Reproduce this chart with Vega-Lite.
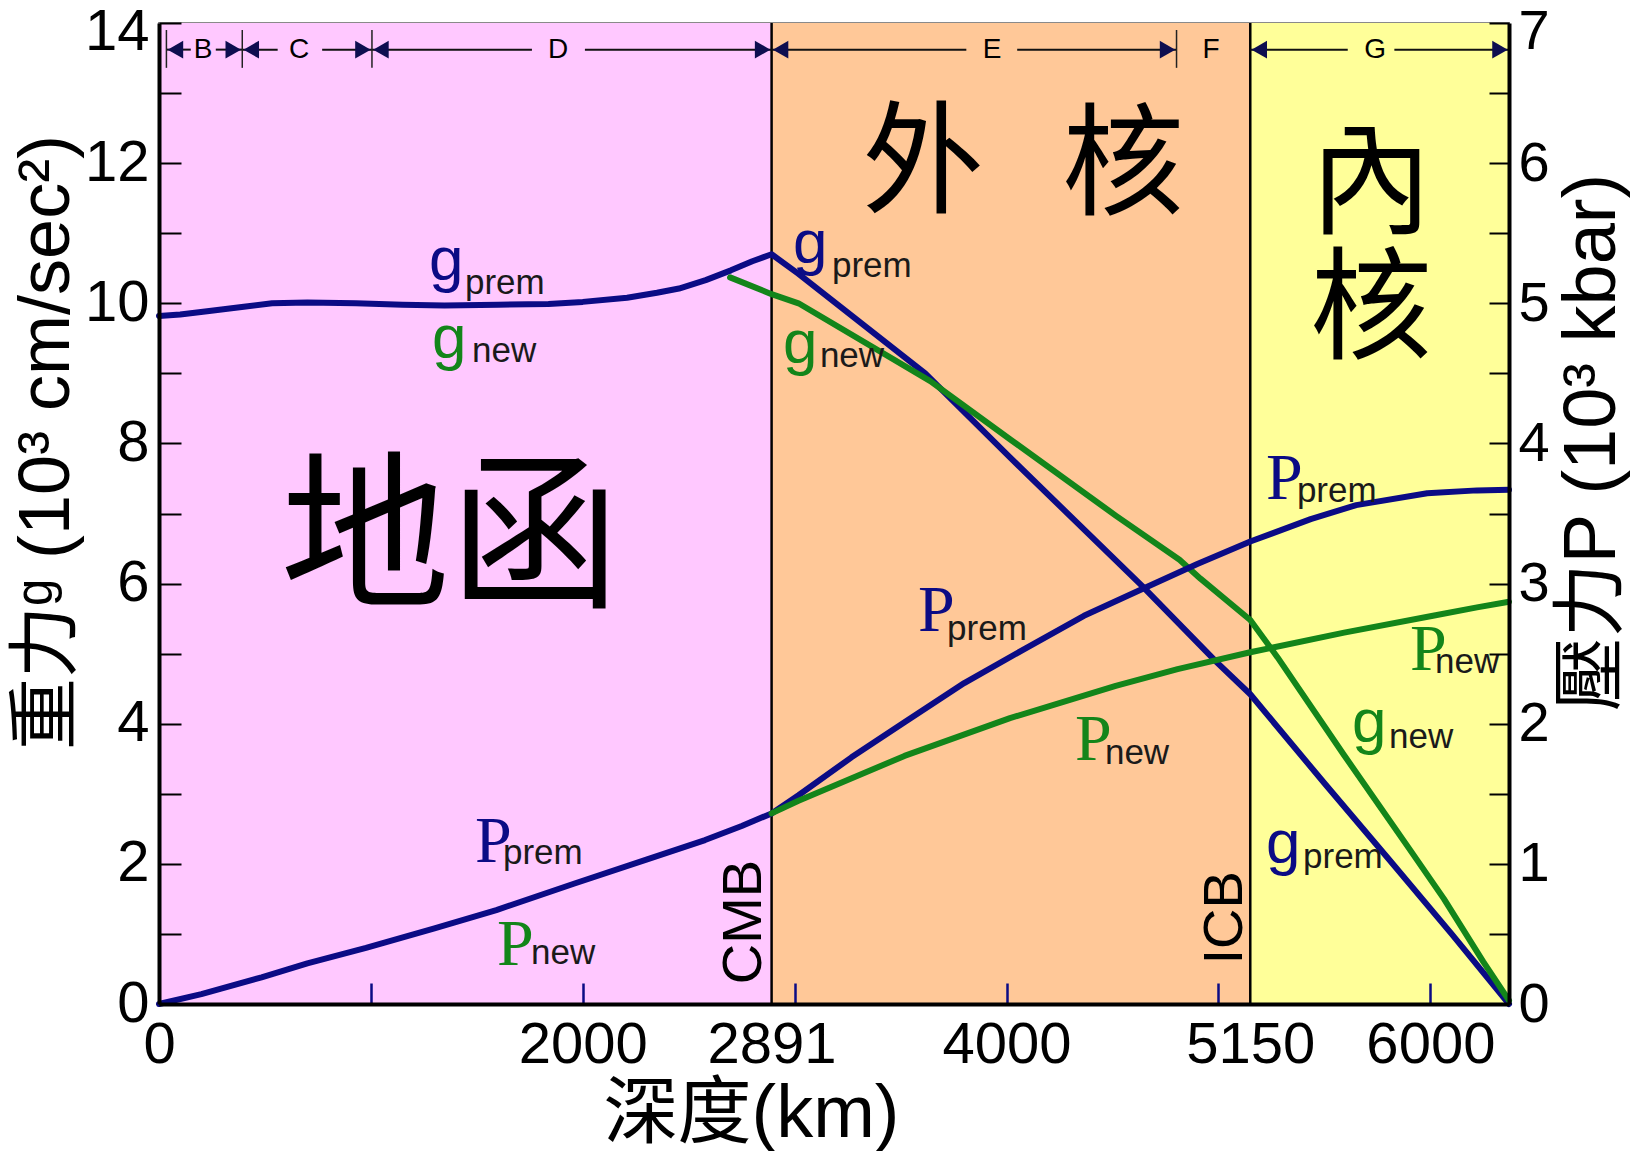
{
  "$schema": "https://vega.github.io/schema/vega-lite/v6.json",
  "width": 1350,
  "height": 981,
  "autosize": {"type": "none"},
  "padding": {"left": 159, "top": 23, "right": 122, "bottom": 147},
  "background": "white",
  "config": {"view": {"stroke": "#8a8a8a", "strokeWidth": 2}, "font": "Liberation Sans"},
  "datasets": {
    "g": [
      {"depth": 0, "g": 9.82, "model": "prem"},
      {"depth": 100, "g": 9.84, "model": "prem"},
      {"depth": 237, "g": 9.89, "model": "prem"},
      {"depth": 400, "g": 9.95, "model": "prem"},
      {"depth": 534, "g": 10.0, "model": "prem"},
      {"depth": 700, "g": 10.01, "model": "prem"},
      {"depth": 929, "g": 10.0, "model": "prem"},
      {"depth": 1150, "g": 9.98, "model": "prem"},
      {"depth": 1347, "g": 9.97, "model": "prem"},
      {"depth": 1600, "g": 9.98, "model": "prem"},
      {"depth": 1838, "g": 9.99, "model": "prem"},
      {"depth": 2000, "g": 10.02, "model": "prem"},
      {"depth": 2209, "g": 10.08, "model": "prem"},
      {"depth": 2350, "g": 10.15, "model": "prem"},
      {"depth": 2454, "g": 10.21, "model": "prem"},
      {"depth": 2580, "g": 10.33, "model": "prem"},
      {"depth": 2699, "g": 10.47, "model": "prem"},
      {"depth": 2800, "g": 10.6, "model": "prem"},
      {"depth": 2891, "g": 10.7, "model": "prem"},
      {"depth": 3018, "g": 10.42, "model": "prem"},
      {"depth": 3616, "g": 9.0, "model": "prem"},
      {"depth": 4016, "g": 7.8, "model": "prem"},
      {"depth": 4638, "g": 5.97, "model": "prem"},
      {"depth": 4991, "g": 4.88, "model": "prem"},
      {"depth": 5150, "g": 4.42, "model": "prem"},
      {"depth": 5500, "g": 3.15, "model": "prem"},
      {"depth": 5800, "g": 2.08, "model": "prem"},
      {"depth": 6100, "g": 1.0, "model": "prem"},
      {"depth": 6371, "g": 0.0, "model": "prem"},
      {"depth": 2695, "g": 10.37, "model": "new"},
      {"depth": 2891, "g": 10.13, "model": "new"},
      {"depth": 3018, "g": 10.0, "model": "new"},
      {"depth": 3640, "g": 8.89, "model": "new"},
      {"depth": 4016, "g": 8.06, "model": "new"},
      {"depth": 4515, "g": 6.97, "model": "new"},
      {"depth": 4816, "g": 6.34, "model": "new"},
      {"depth": 4915, "g": 6.07, "model": "new"},
      {"depth": 5150, "g": 5.48, "model": "new"},
      {"depth": 5278, "g": 4.95, "model": "new"},
      {"depth": 5593, "g": 3.55, "model": "new"},
      {"depth": 5904, "g": 2.2, "model": "new"},
      {"depth": 6064, "g": 1.5, "model": "new"},
      {"depth": 6250, "g": 0.6, "model": "new"},
      {"depth": 6371, "g": 0.05, "model": "new"}
    ],
    "P": [
      {"depth": 0, "P": 0.0, "model": "prem"},
      {"depth": 200, "P": 0.07, "model": "prem"},
      {"depth": 484, "P": 0.19, "model": "prem"},
      {"depth": 700, "P": 0.29, "model": "prem"},
      {"depth": 977, "P": 0.4, "model": "prem"},
      {"depth": 1300, "P": 0.54, "model": "prem"},
      {"depth": 1592, "P": 0.67, "model": "prem"},
      {"depth": 1961, "P": 0.86, "model": "prem"},
      {"depth": 2300, "P": 1.03, "model": "prem"},
      {"depth": 2577, "P": 1.17, "model": "prem"},
      {"depth": 2750, "P": 1.27, "model": "prem"},
      {"depth": 2891, "P": 1.36, "model": "prem"},
      {"depth": 3018, "P": 1.49, "model": "prem"},
      {"depth": 3268, "P": 1.76, "model": "prem"},
      {"depth": 3518, "P": 2.01, "model": "prem"},
      {"depth": 3800, "P": 2.29, "model": "prem"},
      {"depth": 4092, "P": 2.54, "model": "prem"},
      {"depth": 4365, "P": 2.77, "model": "prem"},
      {"depth": 4638, "P": 2.96, "model": "prem"},
      {"depth": 4900, "P": 3.14, "model": "prem"},
      {"depth": 5150, "P": 3.3, "model": "prem"},
      {"depth": 5435, "P": 3.46, "model": "prem"},
      {"depth": 5650, "P": 3.56, "model": "prem"},
      {"depth": 5985, "P": 3.645, "model": "prem"},
      {"depth": 6220, "P": 3.665, "model": "prem"},
      {"depth": 6371, "P": 3.67, "model": "prem"},
      {"depth": 2891, "P": 1.36, "model": "new"},
      {"depth": 3018, "P": 1.45, "model": "new"},
      {"depth": 3518, "P": 1.77, "model": "new"},
      {"depth": 4016, "P": 2.04, "model": "new"},
      {"depth": 4515, "P": 2.27, "model": "new"},
      {"depth": 4807, "P": 2.39, "model": "new"},
      {"depth": 5150, "P": 2.51, "model": "new"},
      {"depth": 5593, "P": 2.65, "model": "new"},
      {"depth": 6012, "P": 2.77, "model": "new"},
      {"depth": 6220, "P": 2.83, "model": "new"},
      {"depth": 6371, "P": 2.87, "model": "new"}
    ],
    "gmain": [
      {"depth": 1274, "g": 10.33, "model": "prem"},
      {"depth": 1288, "g": 9.22, "model": "new"},
      {"depth": 2992, "g": 10.58, "model": "prem"},
      {"depth": 2945, "g": 9.15, "model": "new"},
      {"depth": 5630, "g": 3.74, "model": "new"},
      {"depth": 5224, "g": 2.01, "model": "prem"}
    ],
    "gsub": [
      {"depth": 1444, "g": 10.13, "sub": "prem"},
      {"depth": 1477, "g": 9.16, "sub": "new"},
      {"depth": 3176, "g": 10.37, "sub": "prem"},
      {"depth": 3119, "g": 9.09, "sub": "new"},
      {"depth": 5805, "g": 3.65, "sub": "new"},
      {"depth": 5399, "g": 1.94, "sub": "prem"}
    ],
    "pmain": [
      {"depth": 1491, "P": 1.01, "model": "prem"},
      {"depth": 1595, "P": 0.28, "model": "new"},
      {"depth": 3582, "P": 2.66, "model": "prem"},
      {"depth": 4323, "P": 1.74, "model": "new"},
      {"depth": 5224, "P": 3.6, "model": "prem"},
      {"depth": 5904, "P": 2.38, "model": "new"}
    ],
    "psub": [
      {"depth": 1623, "P": 1.0, "sub": "prem"},
      {"depth": 1756, "P": 0.285, "sub": "new"},
      {"depth": 3719, "P": 2.6, "sub": "prem"},
      {"depth": 4464, "P": 1.71, "sub": "new"},
      {"depth": 5370, "P": 3.58, "sub": "prem"},
      {"depth": 6022, "P": 2.36, "sub": "new"}
    ]
  },
  "encoding": {
    "x": {
      "field": "depth", "type": "quantitative",
      "scale": {"domain": [0, 6371], "nice": false, "zero": false},
      "axis": {
        "values": [0, 1000, 2000, 2891, 3000, 4000, 5000, 5150, 6000],
        "format": "d",
        "labelExpr": "indexof([0, 2000, 2891, 4000, 5150, 6000], datum.value) >= 0 ? datum.label : ''",
        "labelFont": "Liberation Sans", "labelFontSize": 58, "labelColor": "black",
        "labelPadding": 33, "labelFlush": false, "labelOverlap": false, "labelBound": false,
        "tickSize": -21, "tickWidth": 2.5, "tickColor": "#0b0b85",
        "tickOpacity": {"condition": {"test": "datum.value == 0 || datum.value == 2891 || datum.value == 5150", "value": 0}, "value": 1},
        "domainColor": "black", "domainWidth": 4, "grid": false, "zindex": 1,
        "title": "深度(km)", "titleFont": "Liberation Sans, Noto Sans CJK TC", "titleFontSize": 74,
        "titleFontWeight": "normal", "titleColor": "black",
        "titleX": 592, "titleY": 110, "titleAlign": "center", "titleBaseline": "middle"
      }
    }
  },
  "layer": [
    {
      "data": {"values": [
        {"depth": 0, "to": 2891, "region": "mantle"},
        {"depth": 2891, "to": 5150, "region": "outer"},
        {"depth": 5150, "to": 6371, "region": "inner"}
      ]},
      "mark": {"type": "rect"},
      "encoding": {
        "x2": {"field": "to"},
        "y": {"datum": 0, "type": "quantitative", "scale": {"domain": [0, 14], "nice": false}, "axis": null},
        "y2": {"datum": 14},
        "fill": {"field": "region", "type": "nominal", "scale": {"domain": ["mantle", "outer", "inner"], "range": ["#FFC8FF", "#FFC898", "#FFFF99"]}, "legend": null}
      }
    },
    {
      "data": {"values": [{"depth": 2891}, {"depth": 5150}]},
      "mark": {"type": "rule", "color": "black", "strokeWidth": 2.5},
      "encoding": {}
    },
    {
      "data": {"values": [
        {"depth": 35, "to": 150}, {"depth": 268, "to": 393},
        {"depth": 393, "to": 560}, {"depth": 770, "to": 1005},
        {"depth": 1005, "to": 1760}, {"depth": 2010, "to": 2891},
        {"depth": 2891, "to": 3810}, {"depth": 4050, "to": 4802},
        {"depth": 5150, "to": 5610}, {"depth": 5830, "to": 6371}
      ]},
      "mark": {"type": "rule", "color": "#111", "strokeWidth": 2},
      "encoding": {
        "x2": {"field": "to"},
        "y": {"datum": 13.62, "type": "quantitative", "scale": {"domain": [0, 14], "nice": false}, "axis": null}
      }
    },
    {
      "data": {"values": [{"depth": 35}, {"depth": 393}, {"depth": 1005}, {"depth": 4802}]},
      "mark": {"type": "rule", "color": "#222", "strokeWidth": 1.5},
      "encoding": {
        "y": {"datum": 13.36, "type": "quantitative", "scale": {"domain": [0, 14], "nice": false}, "axis": null},
        "y2": {"datum": 13.9}
      }
    },
    {
      "data": {"values": [{"depth": 35}, {"depth": 393}, {"depth": 1005}, {"depth": 2891}, {"depth": 5150}]},
      "mark": {"type": "point", "shape": "triangle-left", "filled": true, "color": "#0e0e50", "opacity": 1, "size": 320, "xOffset": 9},
      "encoding": {
        "y": {"datum": 13.62, "type": "quantitative", "scale": {"domain": [0, 14], "nice": false}, "axis": null}
      }
    },
    {
      "data": {"values": [{"depth": 393}, {"depth": 1005}, {"depth": 2891}, {"depth": 4802}, {"depth": 6371}]},
      "mark": {"type": "point", "shape": "triangle-right", "filled": true, "color": "#0e0e50", "opacity": 1, "size": 320, "xOffset": -9},
      "encoding": {
        "y": {"datum": 13.62, "type": "quantitative", "scale": {"domain": [0, 14], "nice": false}, "axis": null}
      }
    },
    {
      "data": {"values": [
        {"depth": 208, "zone": "B"}, {"depth": 661, "zone": "C"}, {"depth": 1883, "zone": "D"},
        {"depth": 3931, "zone": "E"}, {"depth": 4965, "zone": "F"}, {"depth": 5739, "zone": "G"}
      ]},
      "mark": {"type": "text", "font": "Liberation Sans", "fontSize": 28, "color": "black", "align": "center", "baseline": "middle"},
      "encoding": {
        "y": {"datum": 13.62, "type": "quantitative", "scale": {"domain": [0, 14], "nice": false}, "axis": null},
        "text": {"field": "zone"}
      }
    },
    {
      "data": {"values": [{"depth": 1373, "g": 6.56, "label": "地函"}]},
      "mark": {"type": "text", "font": "Noto Sans CJK TC", "fontSize": 170, "color": "black", "align": "center", "baseline": "middle"},
      "encoding": {
        "y": {"field": "g", "type": "quantitative", "scale": {"domain": [0, 14], "nice": false}, "axis": null},
        "text": {"field": "label"}
      }
    },
    {
      "data": {"values": [
        {"depth": 3605, "g": 11.96, "label": "外"},
        {"depth": 4549, "g": 11.93, "label": "核"},
        {"depth": 5720, "g": 11.66, "label": "內"},
        {"depth": 5720, "g": 9.88, "label": "核"}
      ]},
      "mark": {"type": "text", "font": "Noto Sans CJK TC", "fontSize": 122, "color": "black", "align": "center", "baseline": "middle"},
      "encoding": {
        "y": {"field": "g", "type": "quantitative", "scale": {"domain": [0, 14], "nice": false}, "axis": null},
        "text": {"field": "label"}
      }
    },
    {
      "data": {"values": [
        {"depth": 2761, "g": 1.17, "label": "CMB"},
        {"depth": 5031, "g": 1.23, "label": "ICB"}
      ]},
      "mark": {"type": "text", "font": "Liberation Sans", "fontSize": 56, "color": "black", "align": "center", "baseline": "middle", "angle": 270},
      "encoding": {
        "y": {"field": "g", "type": "quantitative", "scale": {"domain": [0, 14], "nice": false}, "axis": null},
        "text": {"field": "label"}
      }
    },
    {
      "data": {"name": "g"},
      "mark": {"type": "line", "strokeWidth": 6, "strokeCap": "round", "strokeJoin": "round"},
      "encoding": {
        "y": {
          "field": "g", "type": "quantitative",
          "scale": {"domain": [0, 14], "nice": false},
          "axis": {
            "values": [0, 1, 2, 3, 4, 5, 6, 7, 8, 9, 10, 11, 12, 13, 14],
            "labelExpr": "datum.value % 2 === 0 ? datum.label : ''",
            "labelFont": "Liberation Sans", "labelFontSize": 58, "labelColor": "black",
            "labelPadding": 32, "labelOverlap": false, "labelBound": false, "labelFlush": false,
            "labelOffset": {"condition": {"test": "datum.value == 14", "value": 9}, "value": 0},
            "tickSize": -22, "tickWidth": 2, "tickColor": "black",
            "domainColor": "black", "domainWidth": 4, "grid": false, "zindex": 1,
            "title": "重力ᵍ (10³ cm/sec²)", "titleFont": "Liberation Sans, Noto Sans CJK TC", "titleFontSize": 72,
            "titleFontWeight": "normal", "titleColor": "black", "titleAngle": 270,
            "titleX": -113, "titleY": 419, "titleAlign": "center", "titleBaseline": "middle"
          }
        },
        "color": {"field": "model", "type": "nominal", "scale": {"domain": ["prem", "new"], "range": ["#0b0b85", "#13851a"]}, "legend": null}
      }
    },
    {
      "data": {"name": "gmain"},
      "mark": {"type": "text", "text": "g", "font": "Liberation Sans", "fontSize": 62, "align": "left", "baseline": "alphabetic"},
      "encoding": {
        "y": {"field": "g", "type": "quantitative", "scale": {"domain": [0, 14], "nice": false}, "axis": null},
        "color": {"field": "model", "type": "nominal", "legend": null}
      }
    },
    {
      "data": {"name": "gsub"},
      "mark": {"type": "text", "font": "Liberation Sans", "fontSize": 35, "color": "#1a1a1a", "align": "left", "baseline": "alphabetic"},
      "encoding": {
        "y": {"field": "g", "type": "quantitative", "scale": {"domain": [0, 14], "nice": false}, "axis": null},
        "text": {"field": "sub"}
      }
    },
    {
      "data": {"name": "P"},
      "mark": {"type": "line", "strokeWidth": 6, "strokeCap": "round", "strokeJoin": "round"},
      "encoding": {
        "y": {
          "field": "P", "type": "quantitative",
          "scale": {"domain": [0, 7], "nice": false},
          "axis": {
            "orient": "right",
            "values": [0, 0.5, 1, 1.5, 2, 2.5, 3, 3.5, 4, 4.5, 5, 5.5, 6, 6.5, 7],
            "format": "~g",
            "labelExpr": "datum.value % 1 === 0 ? datum.label : ''",
            "labelFont": "Liberation Sans", "labelFontSize": 56, "labelColor": "black",
            "labelPadding": 29, "labelOverlap": false, "labelBound": false, "labelFlush": false,
            "labelOffset": {"condition": {"test": "datum.value == 7", "value": 8}, "value": 0},
            "tickSize": -20, "tickWidth": 2, "tickColor": "black",
            "domainColor": "black", "domainWidth": 4, "grid": false, "zindex": 1,
            "title": "壓力P (10³ kbar)", "titleFont": "Liberation Sans, Noto Sans CJK TC", "titleFontSize": 74,
            "titleFontWeight": "normal", "titleColor": "black", "titleAngle": 270,
            "titleX": 83, "titleY": 419, "titleAlign": "center", "titleBaseline": "middle"
          }
        },
        "color": {"field": "model", "type": "nominal", "legend": null}
      }
    },
    {
      "data": {"name": "pmain"},
      "mark": {"type": "text", "text": "P", "font": "Liberation Serif", "fontSize": 66, "align": "left", "baseline": "alphabetic"},
      "encoding": {
        "y": {"field": "P", "type": "quantitative", "scale": {"domain": [0, 7], "nice": false}, "axis": null},
        "color": {"field": "model", "type": "nominal", "legend": null}
      }
    },
    {
      "data": {"name": "psub"},
      "mark": {"type": "text", "font": "Liberation Sans", "fontSize": 35, "color": "#1a1a1a", "align": "left", "baseline": "alphabetic"},
      "encoding": {
        "y": {"field": "P", "type": "quantitative", "scale": {"domain": [0, 7], "nice": false}, "axis": null},
        "text": {"field": "sub"}
      }
    }
  ],
  "resolve": {"scale": {"y": "independent"}}
}
